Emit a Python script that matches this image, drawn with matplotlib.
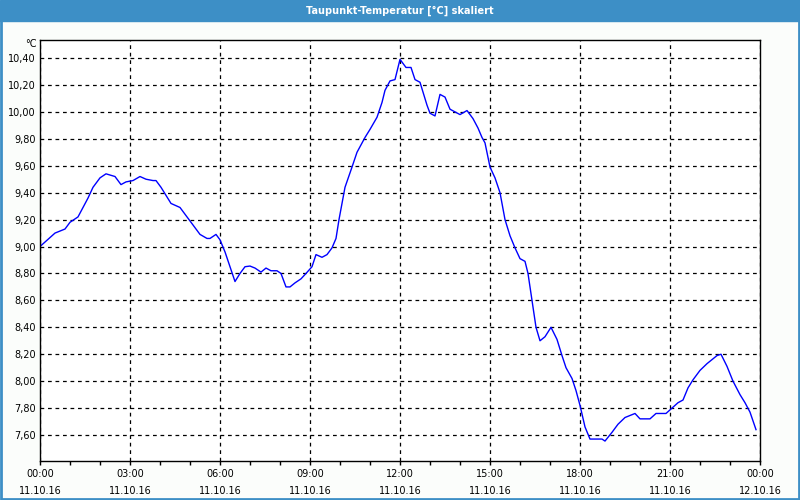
import matplotlib
matplotlib.use("Agg")
from matplotlib import pyplot as plt
from matplotlib.patches import Rectangle

# time in minutes since 11.10.16 00:00, dew point in degC
minutes = [0, 12, 30, 50, 60, 76, 86, 96, 106, 120,
           132, 150, 162, 172, 186, 200, 212, 226, 232, 242,
           252, 262, 280, 294, 306, 320, 334, 340, 352, 360,
           370, 380, 390, 400, 410, 420, 430, 442, 452, 462,
           474, 482, 492, 500, 510, 522, 532, 544, 552, 564,
           574, 584, 592, 598, 610, 624, 634, 650, 660, 674,
           684, 690, 700, 710, 720, 732, 742, 750, 760, 774,
           780, 790, 800, 810, 820, 840, 854, 866, 876, 884,
           890, 900, 910, 920, 930, 940, 950, 960, 970, 976,
           984, 992, 1000, 1010, 1022, 1034, 1044, 1052, 1064, 1072,
           1080, 1090, 1100, 1124, 1130, 1144, 1156, 1170, 1190, 1200,
           1220, 1232, 1252, 1264, 1276, 1286, 1296, 1306, 1320, 1334,
           1344, 1354, 1362, 1374, 1386, 1400, 1410, 1420, 1432]
values = [9.00, 9.04, 9.10, 9.13, 9.18, 9.22, 9.29, 9.36, 9.44, 9.51,
          9.54, 9.52, 9.46, 9.48, 9.49, 9.52, 9.50, 9.49, 9.49, 9.44,
          9.38, 9.32, 9.29, 9.22, 9.16, 9.09, 9.06, 9.06, 9.09, 9.05,
          8.96, 8.85, 8.74, 8.80, 8.85, 8.855, 8.84, 8.81, 8.84, 8.82,
          8.82, 8.80, 8.70, 8.70, 8.73, 8.76, 8.80, 8.85, 8.94, 8.92,
          8.94, 8.99, 9.06, 9.20, 9.44, 9.59, 9.70, 9.81, 9.87, 9.96,
          10.07, 10.16, 10.23, 10.24, 10.39, 10.33, 10.33, 10.24, 10.22, 10.05,
          9.99, 9.97, 10.13, 10.11, 10.02, 9.98, 10.01, 9.95, 9.88, 9.81,
          9.77, 9.59, 9.51, 9.40, 9.20, 9.08, 8.99, 8.91, 8.89, 8.80,
          8.60, 8.40, 8.30, 8.33, 8.40, 8.31, 8.19, 8.10, 8.02, 7.93,
          7.82, 7.66, 7.57, 7.57, 7.555, 7.62, 7.68, 7.73, 7.76, 7.72,
          7.72, 7.76, 7.76, 7.80, 7.84, 7.86, 7.95, 8.01, 8.08, 8.13,
          8.16, 8.19, 8.20, 8.11, 8.00, 7.90, 7.84, 7.77, 7.64]

x_ticks = [0, 180, 360, 540, 720, 900, 1080, 1260, 1440]
x_labels = ["00:00\n11.10.16", "03:00\n11.10.16", "06:00\n11.10.16", "09:00\n11.10.16",
            "12:00\n11.10.16", "15:00\n11.10.16", "18:00\n11.10.16", "21:00\n11.10.16",
            "00:00\n12.10.16"]
y_ticks = [7.6, 7.8, 8.0, 8.2, 8.4, 8.6, 8.8, 9.0, 9.2, 9.4, 9.6, 9.8, 10.0, 10.2, 10.4]

blue = "#3d8fc6"
plt.rcParams["font.family"] = "DejaVu Sans"

fig = plt.figure(figsize=(8, 5), dpi=100, facecolor="#fbfdfb")

# title bar and frame
fig.patches.append(Rectangle((0, 0.958), 1, 0.042, transform=fig.transFigure,
                             color=blue, zorder=0))
fig.patches.append(Rectangle((0.001, 0.002), 0.998, 0.96, transform=fig.transFigure,
                             fill=False, edgecolor=blue, linewidth=2, zorder=0))
fig.text(0.5, 0.979, "Taupunkt-Temperatur [°C] skaliert", color="white",
         ha="center", va="center", fontsize=7, fontweight="bold")

ax = fig.add_axes([0.05, 0.078, 0.90, 0.842])
ax.set_facecolor("white")
ax.plot(minutes, values, color="#0000ff", linewidth=1)

ax.set_xlim(0, 1440)
ax.set_ylim(7.407, 10.534)
ax.set_xticks(x_ticks)
ax.set_xticklabels(x_labels, fontsize=7, linespacing=1.8)
ax.set_xticks(range(0, 1441, 60), minor=True)
ax.set_yticks(y_ticks)
ax.set_yticklabels([f"{v:.2f}".replace(".", ",") for v in y_ticks], fontsize=7)
ax.tick_params(axis="x", which="both", direction="out", length=3, width=1, pad=3)
ax.tick_params(axis="y", length=0, pad=3)

ax.grid(True, which="major", color="black", linestyle=(0, (3, 3)), linewidth=0.9)
for s in ax.spines.values():
    s.set_color("black")
    s.set_linewidth(1)

fig.text(0.046, 0.912, "°C", ha="right", va="center", fontsize=7)

plt.savefig("out.png", dpi=100, facecolor=fig.get_facecolor())
